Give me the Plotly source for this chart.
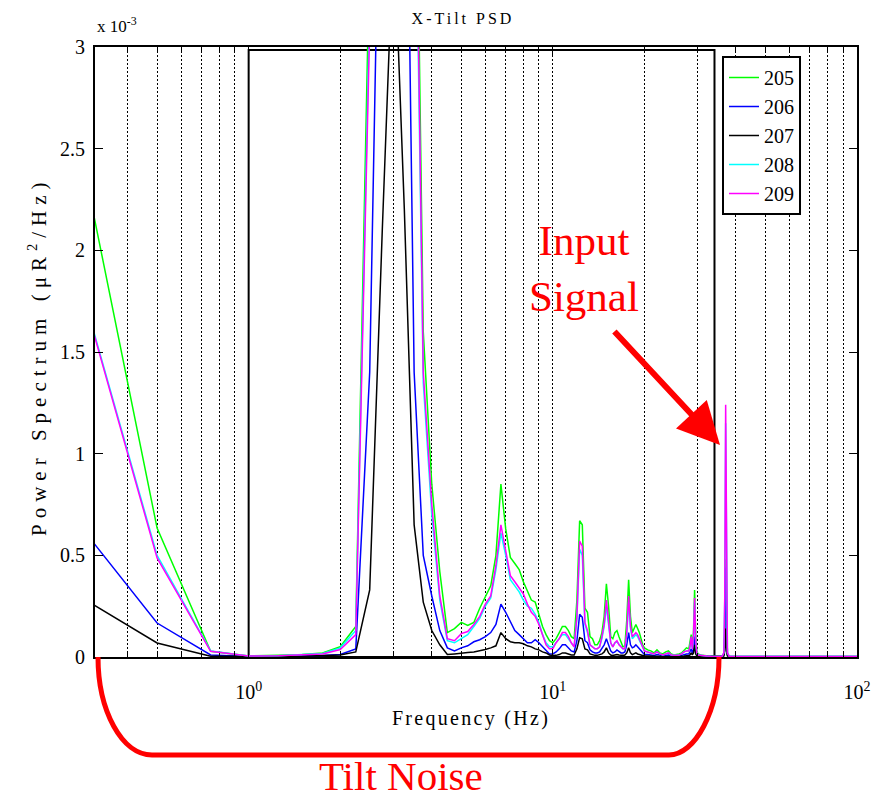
import plotly.graph_objects as go
import numpy as np

# Frequencies (Hz)
freq = [0.25, 0.5, 0.75, 1.0, 1.25, 1.5, 1.75, 2.0, 2.25, 2.5, 2.75, 3.0, 3.25, 3.5, 3.75, 4.0, 4.25, 4.5, 4.75, 5.0,
        5.25, 5.5, 5.75, 6.0, 6.25, 6.5, 6.75, 7.0, 7.25, 7.5, 7.75, 8.0, 8.25, 8.5, 8.75, 9.0, 9.25, 9.5, 9.75, 10.0,
        10.25, 10.5, 10.75, 11.0, 11.25, 11.5, 11.75, 12.0, 12.25, 12.5, 12.75, 13.0, 13.25, 13.5, 13.75, 14.0,
        14.25, 14.5, 14.75, 15.0, 15.25, 15.5, 15.75, 16.0, 16.25, 16.5, 16.75, 17.0, 17.25, 17.5, 17.75, 18.0,
        18.25, 18.5, 18.75, 19.0, 19.25, 19.5, 19.75, 20.0,
        20.5, 21.0, 21.5, 22.0, 22.5, 23.0, 23.5, 24.0, 24.5, 25.0, 25.5, 26.0, 26.5, 27.0, 27.5, 28.0,
        28.25, 28.5, 28.75, 29.0, 29.25, 29.5, 29.75, 30.0,
        31.0, 32.0, 33.0, 34.0, 35.0, 36.0,
        36.5, 36.75, 37.0, 37.25, 37.5, 38.0,
        40.0, 50.0, 60.0, 70.0, 80.0, 90.0, 100.0]

# Power spectrum values in units of 1e-3 (uR^2/Hz)
psd_205 = [2.86, 0.634, 0.028, 0.005, 0.008, 0.012, 0.02, 0.05, 0.15, 3.5, 11.0, 14.0, 10.0, 4.8, 1.6, 0.85, 0.42, 0.12, 0.14, 0.17,
           0.155, 0.17, 0.24, 0.30, 0.35, 0.50, 0.85, 0.63, 0.49, 0.46, 0.43, 0.37, 0.32, 0.28, 0.27, 0.21, 0.15, 0.11, 0.08, 0.07,
           0.09, 0.12, 0.15, 0.15, 0.13, 0.10, 0.09, 0.28, 0.67, 0.65, 0.24, 0.22, 0.10, 0.09, 0.06, 0.06,
           0.08, 0.12, 0.20, 0.36, 0.25, 0.10, 0.09, 0.12, 0.13, 0.10, 0.07, 0.05, 0.055, 0.18, 0.38, 0.20,
           0.12, 0.14, 0.16, 0.14, 0.12, 0.09, 0.06, 0.045,
           0.035, 0.03, 0.02, 0.035, 0.02, 0.015, 0.025, 0.03, 0.015, 0.01, 0.012, 0.015, 0.02, 0.035, 0.045, 0.04,
           0.07, 0.11, 0.05, 0.12, 0.33, 0.10, 0.03, 0.015,
           0.008, 0.005, 0.004, 0.004, 0.003, 0.003,
           0.01, 0.12, 0.48, 0.12, 0.01, 0.003,
           0.002, 0.002, 0.002, 0.002, 0.002, 0.002, 0.002]

psd_206 = [0.736, 0.167, 0.01, 0.003, 0.004, 0.005, 0.007, 0.012, 0.04, 1.4, 4.7, 8.0, 5.0, 1.4, 0.5, 0.30, 0.13, 0.045, 0.03, 0.045,
           0.055, 0.075, 0.085, 0.10, 0.12, 0.16, 0.26, 0.22, 0.17, 0.13, 0.11, 0.09, 0.07, 0.07, 0.085, 0.07, 0.05, 0.03, 0.015, 0.015,
           0.025, 0.04, 0.06, 0.06, 0.045, 0.03, 0.025, 0.08, 0.21, 0.195, 0.08, 0.07, 0.035, 0.025, 0.02, 0.02,
           0.025, 0.04, 0.06, 0.09, 0.06, 0.03, 0.02, 0.025, 0.035, 0.025, 0.02, 0.02, 0.025, 0.06, 0.12, 0.06,
           0.045, 0.05, 0.06, 0.05, 0.04, 0.03, 0.02, 0.012,
           0.012, 0.01, 0.008, 0.012, 0.008, 0.006, 0.008, 0.01, 0.006, 0.005, 0.005, 0.006, 0.008, 0.012, 0.015, 0.015,
           0.025, 0.04, 0.02, 0.04, 0.10, 0.03, 0.01, 0.005,
           0.004, 0.003, 0.003, 0.003, 0.002, 0.002,
           0.01, 0.10, 0.44, 0.10, 0.01, 0.002,
           0.002, 0.002, 0.002, 0.002, 0.002, 0.002, 0.002]

psd_207 = [0.339, 0.069, 0.004, 0.002, 0.003, 0.004, 0.006, 0.01, 0.025, 0.33, 2.1, 3.6, 2.2, 0.65, 0.27, 0.13, 0.06, 0.012, 0.015, 0.02,
           0.022, 0.025, 0.03, 0.037, 0.045, 0.055, 0.12, 0.09, 0.075, 0.07, 0.07, 0.065, 0.055, 0.05, 0.04, 0.035, 0.025, 0.02, 0.01, 0.007,
           0.008, 0.012, 0.02, 0.02, 0.015, 0.01, 0.01, 0.04, 0.095, 0.09, 0.04, 0.035, 0.015, 0.01, 0.008, 0.008,
           0.01, 0.015, 0.025, 0.045, 0.02, 0.01, 0.008, 0.01, 0.012, 0.01, 0.008, 0.008, 0.01, 0.02, 0.045, 0.02,
           0.012, 0.015, 0.02, 0.015, 0.012, 0.01, 0.008, 0.005,
           0.005, 0.004, 0.003, 0.005, 0.003, 0.003, 0.003, 0.004, 0.003, 0.002, 0.002, 0.003, 0.003, 0.005, 0.006, 0.006,
           0.01, 0.02, 0.01, 0.02, 0.06, 0.015, 0.005, 0.003,
           0.002, 0.002, 0.002, 0.002, 0.002, 0.002,
           0.005, 0.03, 0.14, 0.03, 0.005, 0.001,
           0.001, 0.001, 0.001, 0.001, 0.001, 0.001, 0.001]

psd_208 = [2.09, 0.50, 0.03, 0.005, 0.006, 0.01, 0.017, 0.045, 0.13, 3.2, 10.0, 13.0, 9.0, 4.3, 1.35, 0.70, 0.28, 0.08, 0.07, 0.09,
           0.11, 0.15, 0.19, 0.25, 0.29, 0.43, 0.61, 0.50, 0.38, 0.35, 0.32, 0.28, 0.25, 0.24, 0.21, 0.17, 0.11, 0.07, 0.05, 0.05,
           0.07, 0.09, 0.11, 0.11, 0.09, 0.07, 0.05, 0.19, 0.53, 0.50, 0.16, 0.12, 0.06, 0.05, 0.04, 0.04,
           0.05, 0.09, 0.15, 0.25, 0.16, 0.07, 0.05, 0.07, 0.075, 0.06, 0.05, 0.04, 0.04, 0.11, 0.27, 0.14,
           0.09, 0.10, 0.11, 0.10, 0.08, 0.06, 0.045, 0.03,
           0.025, 0.02, 0.015, 0.025, 0.015, 0.01, 0.015, 0.02, 0.01, 0.008, 0.008, 0.01, 0.015, 0.025, 0.03, 0.03,
           0.05, 0.09, 0.04, 0.09, 0.27, 0.07, 0.02, 0.01,
           0.006, 0.005, 0.004, 0.004, 0.003, 0.003,
           0.02, 0.28, 1.15, 0.28, 0.02, 0.004,
           0.003, 0.003, 0.003, 0.003, 0.003, 0.003, 0.003]

psd_209 = [2.085, 0.487, 0.028, 0.005, 0.006, 0.01, 0.015, 0.037, 0.11, 3.1, 10.0, 13.0, 9.0, 4.5, 1.4, 0.75, 0.30, 0.09, 0.08, 0.115,
           0.125, 0.16, 0.20, 0.26, 0.30, 0.45, 0.65, 0.52, 0.40, 0.37, 0.34, 0.31, 0.26, 0.22, 0.20, 0.16, 0.11, 0.06, 0.04, 0.04,
           0.07, 0.09, 0.12, 0.12, 0.10, 0.07, 0.05, 0.20, 0.57, 0.545, 0.17, 0.13, 0.06, 0.05, 0.04, 0.04,
           0.05, 0.10, 0.16, 0.28, 0.17, 0.07, 0.05, 0.07, 0.08, 0.06, 0.05, 0.04, 0.04, 0.12, 0.30, 0.15,
           0.10, 0.11, 0.12, 0.11, 0.09, 0.07, 0.05, 0.03,
           0.025, 0.02, 0.015, 0.025, 0.015, 0.01, 0.015, 0.02, 0.01, 0.008, 0.008, 0.01, 0.015, 0.025, 0.03, 0.03,
           0.05, 0.10, 0.04, 0.10, 0.29, 0.08, 0.02, 0.01,
           0.006, 0.005, 0.004, 0.004, 0.003, 0.003,
           0.02, 0.30, 1.24, 0.30, 0.02, 0.004,
           0.003, 0.003, 0.003, 0.003, 0.003, 0.003, 0.003]

series_names = ["205", "206", "207", "208", "209"]
series_vals = [psd_205, psd_206, psd_207, psd_208, psd_209]
series_colors = ["#00ff00", "#0000ff", "#000000", "#00ffff", "#ff00ff"]

y_ticks = [0, 0.5, 1, 1.5, 2, 2.5, 3]
y_ticklabels = ["0", "0.5", "1", "1.5", "2", "2.5", "3"]
x_ticks = [1, 10, 100]
x_ticklabels = ["10<sup>0</sup>", "10<sup>1</sup>", "10<sup>2</sup>"]

FONT = "Liberation Serif, Times New Roman, serif"

fig = go.Figure()
for name, vals, col in zip(series_names, series_vals, series_colors):
    fig.add_trace(go.Scatter(x=freq, y=vals, mode="lines", name=name,
                             line=dict(color=col, width=1.5)))

# page has an 8px body margin; size the figure so the plot area lands at
# screen x 95..857, y 47..657
OFF = 8
W, H = 874, 793
PL, PR, PT, PB = 95, 857, 47, 657
L, R, T = PL - OFF, OFF + W - PR, PT - OFF
B = OFF + H - PB

def px(xs):
    return (xs - PL) / (PR - PL)

def py(ys):
    return (PB - ys) / (PB - PT)

fig.update_layout(
    width=W, height=H,
    margin=dict(l=L, r=R, t=T, b=B, autoexpand=False),
    paper_bgcolor="white", plot_bgcolor="white",
    font=dict(family=FONT, color="black", size=20),
    title=dict(text="X-Tilt PSD", xref="paper", x=px(463), xanchor="center",
               yref="container", y=1 - (18 - OFF) / H, yanchor="middle",
               font=dict(family=FONT, size=16, color="black")),
    showlegend=True,
    legend=dict(x=px(722), y=py(56), xanchor="left", yanchor="top",
                bgcolor="white", bordercolor="black", borderwidth=2,
                font=dict(family=FONT, size=20, color="black"),
                tracegroupgap=0),
    xaxis=dict(type="log", range=[np.log10(0.3125), 2],
               tickvals=x_ticks, ticktext=x_ticklabels,
               ticks="inside", ticklen=8, tickwidth=1, tickcolor="black",
               showline=True, linecolor="black", linewidth=2, mirror="ticks",
               showgrid=True, gridcolor="black", gridwidth=1, griddash="2px,2px",
               minor=dict(ticks="inside", ticklen=4, tickcolor="black", dtick="D1",
                          showgrid=True, gridcolor="black", gridwidth=1, griddash="2px,2px"),
               tickfont=dict(family=FONT, size=20), ticklabelstandoff=16, zeroline=False),
    yaxis=dict(range=[0, 3], tickvals=y_ticks, ticktext=y_ticklabels,
               ticks="inside", ticklen=8, tickwidth=1, tickcolor="black",
               showline=True, linecolor="black", linewidth=2, mirror="ticks",
               showgrid=False, zeroline=False, ticklabelstandoff=4,
               tickfont=dict(family=FONT, size=20)),
)

# box outlining 1 Hz .. ~34 Hz region
fig.add_shape(type="rect", xref="x", yref="y", x0=1, x1=34, y0=0, y1=2.985,
              line=dict(color="black", width=2), fillcolor="rgba(0,0,0,0)", layer="between")
# white patch behind "Input Signal" label
fig.add_shape(type="rect", xref="paper", yref="paper", x0=px(498), x1=px(655), y0=py(330), y1=py(203),
              line=dict(width=0), fillcolor="white", layer="between")

# Tilt Noise bracket
pts = [(98, 657), (98, 711), (122, 755), (152, 755), (669, 755), (695, 755), (719, 711), (719, 657)]
P = [(px(a), py(b)) for a, b in pts]
path = (f"M {P[0][0]},{P[0][1]} C {P[1][0]},{P[1][1]} {P[2][0]},{P[2][1]} {P[3][0]},{P[3][1]} "
        f"L {P[4][0]},{P[4][1]} C {P[5][0]},{P[5][1]} {P[6][0]},{P[6][1]} {P[7][0]},{P[7][1]}")
fig.add_shape(type="path", xref="paper", yref="paper", path=path,
              line=dict(color="red", width=5), layer="above")

ann = [
    dict(text="x 10<sup>-3</sup>", x=px(95), y=py(25), xanchor="left", yanchor="middle",
         font=dict(family=FONT, size=17)),
    dict(text="Frequency (Hz)", x=px(471), y=py(718), xanchor="center", yanchor="middle",
         font=dict(family=FONT, size=20)),
    dict(text="Power Spectrum (μR<sup>2</sup>/Hz)", x=px(38), y=py(356), xanchor="center", yanchor="middle",
         textangle=-90, font=dict(family=FONT, size=21)),
    dict(text="Input<br>Signal", x=px(584), y=py(268), xanchor="center", yanchor="middle",
         font=dict(family=FONT, size=43, color="red")),
    dict(text="Tilt Noise", x=px(401), y=py(776), xanchor="center", yanchor="middle",
         font=dict(family=FONT, size=41, color="red")),
]
for a in ann:
    fig.add_annotation(xref="paper", yref="paper", showarrow=False, **a)

# red arrow to the input signal peak
fig.add_annotation(xref="paper", yref="paper", x=px(720), y=py(445), text="",
                   showarrow=True, arrowhead=2, arrowsize=1.4, arrowwidth=6, arrowcolor="red",
                   ax=613 - 720, ay=330 - 445, standoff=0)

# the original MATLAB export renders these labels with wide letter spacing
post = """
var gd = document.getElementById('{plot_id}');
var rules = [['Power Spectrum', '6px'], ['Frequency (Hz)', '2.3px'], ['X-Tilt PSD', '3px']];
gd.querySelectorAll('text').forEach(function(t){
  var s = t.textContent || '';
  rules.forEach(function(r){ if (s.indexOf(r[0]) === 0) { t.setAttribute('letter-spacing', r[1]); } });
});
"""

fig.write_html("out.html", post_script=post)
